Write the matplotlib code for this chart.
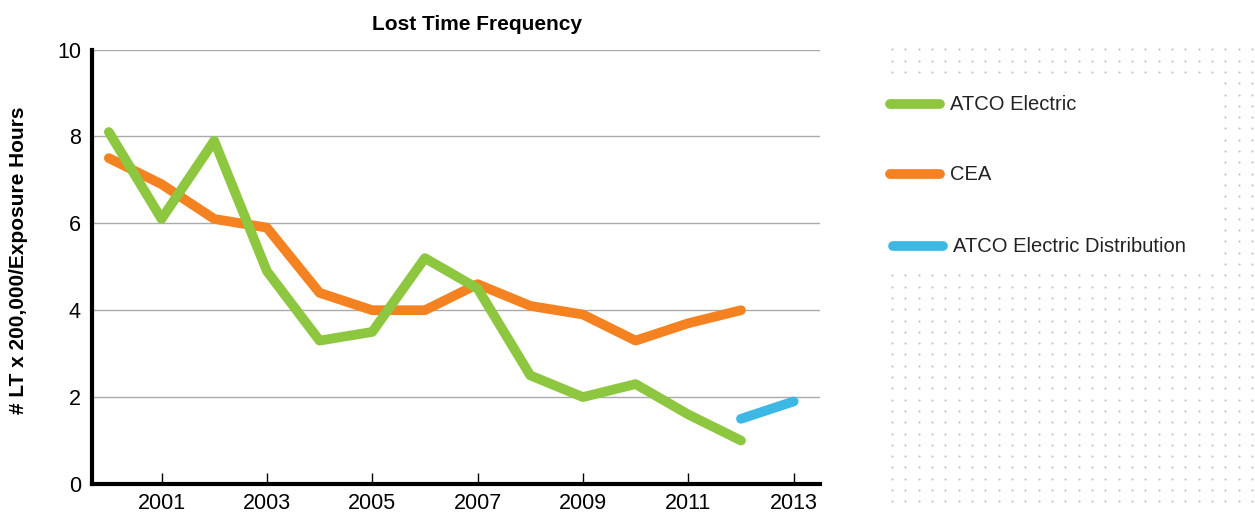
import numpy as np
import matplotlib
matplotlib.use("Agg")
import matplotlib.pyplot as plt
from matplotlib.lines import Line2D

# data
years = [2000, 2001, 2002, 2003, 2004, 2005, 2006, 2007, 2008, 2009, 2010, 2011, 2012]
atco_electric = [8.1, 6.1, 7.9, 4.9, 3.3, 3.5, 5.2, 4.5, 2.5, 2.0, 2.3, 1.6, 1.0]
cea = [7.5, 6.9, 6.1, 5.9, 4.4, 4.0, 4.0, 4.6, 4.1, 3.9, 3.3, 3.7, 4.0]
dist_years = [2012, 2013]
atco_distribution = [1.5, 1.9]

series_labels = ["ATCO Electric", "CEA", "ATCO Electric Distribution"]
series_colors = ["#8DC63F", "#F58220", "#3DB7E4"]
xticks = [2001, 2003, 2005, 2007, 2009, 2011, 2013]
yticks = [0, 2, 4, 6, 8, 10]

plt.rcParams['font.family'] = ['Liberation Sans', 'DejaVu Sans']

W, H = 1255, 512
fig = plt.figure(figsize=(W / 100, H / 100), dpi=100)

# dotted background decoration (pixel coords)
bg = fig.add_axes([0, 0, 1, 1], zorder=0)
bg.set_xlim(0, W)
bg.set_ylim(H, 0)
bg.axis('off')
cols = 892 + 13.33 * np.arange(28)
dx, dy = [], []
for k in range(41):
    y = 49.3 + 11.3 * k
    if 3 <= k <= 19:
        cx = cols[-3:]
    else:
        cx = cols
    dx.extend(cx)
    dy.extend([y] * len(cx))
bg.scatter(dx, dy, s=2.5, c="#c4c4c4", linewidths=0)

ax = fig.add_axes([92 / W, (H - 484) / H, (820 - 92) / W, (484 - 49.5) / H], zorder=1)
ax.patch.set_alpha(0)

lw = 7
ax.plot(years, atco_electric, color=series_colors[0], lw=lw,
        solid_capstyle='round', solid_joinstyle='round', zorder=3)
ax.plot(years, cea, color=series_colors[1], lw=lw,
        solid_capstyle='round', solid_joinstyle='round', zorder=2)
ax.plot(dist_years, atco_distribution, color=series_colors[2], lw=lw,
        solid_capstyle='round', solid_joinstyle='round', zorder=2)

ax.set_xlim(1999.68, 2013.5)
ax.set_ylim(0, 10)
ax.set_xticks(xticks)
ax.set_yticks(yticks)
ax.tick_params(axis='x', direction='in', length=8, width=1, labelsize=15.5, pad=6.5)
ax.tick_params(axis='y', length=0, labelsize=15.5, pad=8)
for v in yticks[1:]:
    ax.axhline(v, color="#aaaaaa", lw=1, zorder=1)
for s in ['top', 'right']:
    ax.spines[s].set_visible(False)
ax.spines['left'].set_linewidth(3)
ax.spines['bottom'].set_linewidth(3)
ax.spines['left'].set_zorder(4)
ax.spines['bottom'].set_zorder(4)

ax.set_title("Lost Time Frequency", fontsize=15, fontweight='bold', pad=14, x=0.529)
ax.set_ylabel("# LT x 200,000/Exposure Hours", fontsize=15, fontweight='bold')
ax.yaxis.set_label_coords(-0.088, 0.515)

# legend drawn by hand
leg_y = [104, 174, 246]
leg_x = [890, 890, 893]
for lab, col, ly, lx in zip(series_labels, series_colors, leg_y, leg_x):
    fig.add_artist(Line2D([lx / W, (lx + 50) / W], [1 - ly / H, 1 - ly / H],
                          color=col, lw=7, solid_capstyle='round'))
    fig.text((lx + 60) / W, 1 - ly / H, lab, fontsize=14.5, va='center', ha='left',
             color="#222222")

fig.savefig("out.png", dpi=100)
